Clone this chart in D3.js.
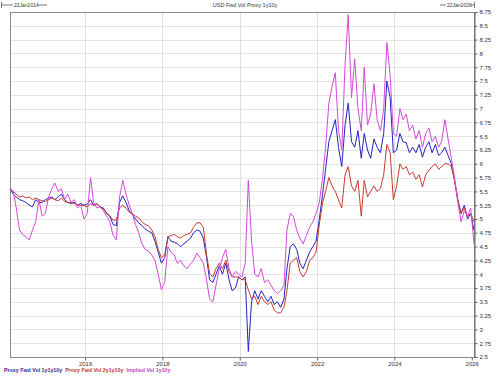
<!DOCTYPE html>
<html>
<head>
<meta charset="utf-8">
<script src="https://cdn.jsdelivr.net/npm/d3@7"></script>
<style>
  body { margin: 0; background: #fff; }
  svg { display: block; font-family: Arial, 'Liberation Sans', sans-serif; }
</style>
</head>
<body>
<script>
// monthly observations, 22nd of each month, Jan 2014 .. Jan 2026
const dates = d3.range(145).map(i => new Date(2014, i, 22))

const fwd1y1y10y = [
  5.55, 5.45, 5.4, 5.35, 5.33, 5.3, 5.25, 5.22, 5.35, 5.3, 5.3, 5.35,
  5.38, 5.4, 5.35, 5.4, 5.45, 5.35, 5.3, 5.28, 5.3, 5.25, 5.28, 5.25,
  5.27, 5.35, 5.25, 5.28, 5.22, 5.2, 5.1, 5.05, 4.9, 4.88, 5.3, 5.42,
  5.3, 5.15, 5.08, 5.0, 4.93, 4.88, 4.82, 4.78, 4.75, 4.6, 4.4, 4.2,
  4.3, 4.68, 4.6, 4.58, 4.55, 4.5, 4.55, 4.6, 4.65, 4.75, 4.8, 4.78,
  4.65, 4.3, 3.9, 3.85, 4.0, 4.15, 4.0, 4.2, 3.9, 3.7, 3.75, 3.95,
  3.9, 3.95, 2.6, 3.5, 3.7, 3.55, 3.7, 3.6, 3.5, 3.6, 3.45, 3.5,
  3.4, 3.55, 4.1, 4.5, 4.55, 4.45, 4.2, 4.1, 4.25, 4.4, 4.5, 4.6,
  5.0, 5.45, 5.9, 6.4, 6.6, 6.8, 6.3, 5.95, 6.7, 7.1, 6.4, 6.3,
  6.6, 6.1, 6.55, 6.25, 6.1, 6.45, 6.3, 6.2, 6.55, 7.5, 7.2, 6.2,
  6.25, 6.55, 6.4, 6.38, 6.2, 6.3, 6.2, 6.35, 6.12, 6.3, 6.4, 6.2,
  6.35, 6.15, 6.2, 6.3, 6.15, 6.0, 5.7, 5.35, 5.1, 5.25, 5.0, 5.1,
  4.8
]

const fwd2y1y10y = [
  5.55, 5.5, 5.45, 5.4, 5.42, 5.38, 5.4, 5.35, 5.38, 5.35, 5.33, 5.32,
  5.35, 5.38, 5.35, 5.33, 5.38, 5.32, 5.3, 5.3, 5.28, 5.26, 5.25, 5.24,
  5.22, 5.28, 5.25, 5.27, 5.22, 5.18, 5.12, 5.06, 4.98, 4.98, 5.2, 5.25,
  5.2, 5.12, 5.1, 5.05, 5.02, 4.95, 4.9, 4.88, 4.8, 4.68, 4.45, 4.3,
  4.35, 4.68, 4.7, 4.72, 4.68, 4.65, 4.7, 4.72, 4.75, 4.85, 4.93, 4.93,
  4.85, 4.35, 4.02, 3.95, 4.1, 4.2, 4.1, 4.25, 4.05, 3.95, 3.95, 3.95,
  3.9, 3.9, 3.72, 3.55, 3.6, 3.45, 3.6, 3.5, 3.45, 3.5, 3.35, 3.3,
  3.3, 3.4, 3.7, 4.2, 4.25, 4.3, 4.05, 3.95, 4.05, 4.25, 4.3, 4.4,
  4.9, 5.3, 5.5, 5.75, 5.6, 5.5, 5.35, 5.2, 5.8, 5.95, 5.6, 5.5,
  5.7, 5.05, 5.7, 5.4, 5.5, 5.6, 5.5, 5.55, 5.8, 6.35, 6.2, 5.35,
  5.6, 6.0, 5.9, 5.95, 5.8, 5.85, 5.72, 5.8, 5.58, 5.8, 5.88, 5.95,
  6.0, 5.9, 5.95, 6.0, 6.0, 5.95, 5.7, 5.35, 5.1, 5.2, 5.05, 5.1,
  4.95
]

const implied1y10y = [
  5.55, 5.5, 5.2, 4.8, 4.72, 4.68, 4.62, 4.8, 4.95, 5.35, 5.05, 5.1,
  5.4, 5.55, 5.65, 5.5, 5.55, 5.35, 5.45, 5.3, 5.35, 5.2, 5.25, 5.0,
  5.1, 5.75, 5.3, 5.2, 5.22, 5.15, 5.05, 4.95, 4.7, 4.62, 5.4, 5.7,
  5.45, 5.25, 5.1, 4.9, 4.75, 4.55, 4.45, 4.42, 4.35, 4.25, 4.0, 3.72,
  3.85, 4.5, 4.4, 4.35, 4.2, 4.25, 4.15, 4.1, 4.18, 4.25, 4.38, 4.3,
  4.2, 3.9, 3.55, 3.5, 3.8, 4.1, 4.3, 4.45, 4.1, 3.95, 4.05, 4.0,
  3.95, 4.2, 5.7, 4.6, 4.0, 3.95, 4.1, 3.85, 3.9, 3.8, 3.7, 3.65,
  3.7, 3.8, 4.8, 5.1, 5.05, 4.8, 4.65, 4.55, 4.7, 4.85, 4.95, 5.1,
  5.3, 5.75, 6.3, 7.1, 7.4, 7.65, 6.6, 6.25, 7.8, 8.7, 7.2, 7.9,
  7.0, 6.6, 7.75, 6.7, 6.9, 7.45, 6.8, 6.6, 7.0, 8.2, 7.6, 6.55,
  6.5, 7.0, 6.8, 6.9, 6.6, 6.7, 6.45, 6.6, 6.3, 6.55, 6.65, 6.4,
  6.5, 6.3, 6.4, 6.8, 6.45, 6.1, 5.75, 5.3, 4.95, 5.15, 5.05, 5.2,
  4.55
]

const series = [
  { name: 'Proxy Fwd Vol 1y1y10y', values: fwd1y1y10y, color: '#2323c4', text: '#2b2b9e' },
  { name: 'Proxy Fwd Vol 2y1y10y', values: fwd2y1y10y, color: '#cc3a2e', text: '#c0392b' },
  { name: 'Implied Vol 1y10y', values: implied1y10y, color: '#d548dc', text: '#c845c8' }
]

const yTicks = d3.range(2.5, 8.751, 0.25)
const xYears = [2016, 2018, 2020, 2022, 2024, 2026]

const W = 500
const H = 377
const plot = { left: 10, right: 474, top: 12, bottom: 357 }

const svg = d3.select('body').append('svg')
  .attr('width', W)
  .attr('height', H)

const x = d3.scaleTime()
  .domain([new Date(2014, 0, 22), new Date(2026, 0, 22)])
  .range([plot.left, plot.right])

const y = d3.scaleLinear()
  .domain([2.5, 8.75])
  .range([plot.bottom, plot.top])

// grid
svg.append('g')
  .selectAll('line')
  .data(yTicks)
  .join('line')
  .attr('x1', plot.left)
  .attr('x2', plot.right)
  .attr('y1', d => Math.round(y(d)) + 0.5)
  .attr('y2', d => Math.round(y(d)) + 0.5)
  .attr('stroke', '#e4e4e4')

svg.append('g')
  .selectAll('line')
  .data(xYears.slice(0, -1))
  .join('line')
  .attr('x1', d => Math.round(x(new Date(d, 0, 1))) + 0.5)
  .attr('x2', d => Math.round(x(new Date(d, 0, 1))) + 0.5)
  .attr('y1', plot.top)
  .attr('y2', plot.bottom)
  .attr('stroke', '#e0e0e0')

// frame
svg.append('rect')
  .attr('x', plot.left + 0.5)
  .attr('y', plot.top + 0.5)
  .attr('width', plot.right - plot.left)
  .attr('height', plot.bottom - plot.top)
  .attr('fill', 'none')
  .attr('stroke', '#8a8a8a')

// lines
const line = d3.line()
  .x((d, i) => x(dates[i]))
  .y(d => y(d))

svg.append('g')
  .selectAll('path')
  .data(series)
  .join('path')
  .attr('d', d => line(d.values))
  .attr('fill', 'none')
  .attr('stroke', d => d.color)
  .attr('stroke-width', 1)
  .attr('stroke-linejoin', 'round')

// axes
const yAxis = svg.append('g')
  .attr('transform', `translate(${plot.right + 0.5},0)`)
  .call(d3.axisRight(y).tickValues(yTicks).tickSize(3).tickPadding(2).tickFormat(d => String(+d.toFixed(2))))
yAxis.select('.domain').attr('stroke', '#666')
yAxis.selectAll('line').attr('stroke', '#666')
yAxis.selectAll('text').attr('font-size', 6).attr('fill', '#333').attr('font-family', 'Arial, sans-serif')

const xAxis = svg.append('g')
  .attr('transform', `translate(0,${plot.bottom + 0.5})`)
  .call(d3.axisBottom(x).tickValues(xYears.map(d => new Date(d, 0, 1))).tickSize(3).tickPadding(1).tickFormat(d3.timeFormat('%Y')))
xAxis.select('.domain').remove()
xAxis.selectAll('line').attr('stroke', '#666')
xAxis.selectAll('text').attr('font-size', 6).attr('fill', '#333').attr('font-family', 'Arial, sans-serif')

// header
svg.append('text')
  .attr('x', 245)
  .attr('y', 7)
  .attr('text-anchor', 'middle')
  .attr('font-size', 5.5)
  .attr('fill', '#333')
  .text('USD Fwd Vol Proxy 1y10y')

const hdr = svg.append('g').attr('stroke', '#555').attr('stroke-width', 0.8)
hdr.append('line').attr('x1', 1.5).attr('x2', 1.5).attr('y1', 2).attr('y2', 8)
hdr.append('line').attr('x1', 1.5).attr('x2', 13).attr('y1', 5).attr('y2', 5)
hdr.append('line').attr('x1', 39).attr('x2', 47).attr('y1', 5).attr('y2', 5)
hdr.append('line').attr('x1', 440).attr('x2', 446).attr('y1', 5).attr('y2', 5)
hdr.append('line').attr('x1', 471).attr('x2', 474.5).attr('y1', 5).attr('y2', 5)
hdr.append('line').attr('x1', 474.5).attr('x2', 474.5).attr('y1', 2).attr('y2', 8)

svg.append('text')
  .attr('x', 14)
  .attr('y', 7)
  .attr('font-size', 5)
  .attr('fill', '#333')
  .text('22Jan2014')

svg.append('text')
  .attr('x', 447)
  .attr('y', 7)
  .attr('font-size', 5)
  .attr('fill', '#333')
  .text('22Jan2026')

// legend
let lx = 4
series.forEach(s => {
  const t = svg.append('text')
    .attr('x', lx)
    .attr('y', 372)
    .attr('font-size', 5.3)
    .attr('font-weight', 'bold')
    .attr('fill', s.text)
    .text(s.name)
  lx += t.node().getComputedTextLength() + 3
})
</script>
</body>
</html>
